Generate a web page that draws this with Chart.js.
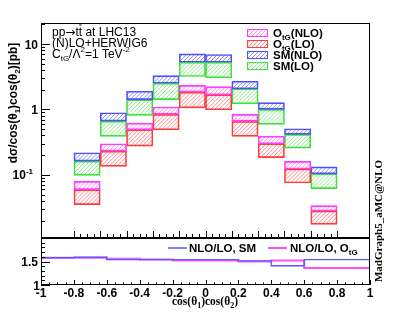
<!DOCTYPE html>
<html>
<head>
<meta charset="utf-8">
<script src="https://cdn.jsdelivr.net/npm/chart.js@4.4.0/dist/chart.umd.min.js"></script>
<style>
  body { margin: 0; background: #fff; }
  #wrap { position: relative; width: 411px; height: 318px; }
  canvas { position: absolute; left: 0; top: 0; }
</style>
</head>
<body>
<div id="wrap">
  <canvas id="chartMain" width="411" height="318"></canvas>
  <canvas id="chartRatio" width="411" height="318"></canvas>
</div>
<script>
// bins of cos(theta1)cos(theta2)
const binCenters = [-0.9, -0.7, -0.5, -0.3, -0.1, 0.1, 0.3, 0.5, 0.7, 0.9]
const binEdges = [-1, -0.8, -0.6, -0.4, -0.2, 0, 0.2, 0.4, 0.6, 0.8, 1]

// uncertainty bands [pb]
const smNloHi = [0.218, 0.89, 1.90, 3.30, 7.08, 6.92, 2.70, 1.27, 0.507, 0.132]
const smNloLo = [0.162, 0.663, 1.41, 2.52, 5.27, 5.27, 2.07, 1.00, 0.415, 0.104]
const smLoHi = [0.162, 0.663, 1.41, 2.52, 5.27, 5.27, 2.07, 1.00, 0.415, 0.104]
const smLoLo = [0.098, 0.387, 0.81, 1.41, 3.19, 3.05, 1.22, 0.59, 0.256, 0.0615]
const otgNloHi = [0.0796, 0.299, 0.618, 1.09, 2.33, 2.24, 0.84, 0.391, 0.161, 0.0339]
const otgNloLo = [0.0594, 0.231, 0.49, 0.84, 1.84, 1.68, 0.656, 0.299, 0.123, 0.028]
const otgLoHi = [0.0594, 0.231, 0.49, 0.84, 1.84, 1.68, 0.656, 0.299, 0.123, 0.028]
const otgLoLo = [0.035, 0.135, 0.275, 0.49, 1.06, 0.99, 0.387, 0.183, 0.075, 0.0175]

// NLO/LO ratios
const ratioSM = [1.52, 1.58, 1.59, 1.54, 1.54, 1.54, 1.54, 1.515, 1.41, 1.54]
const ratioOtG = [1.56, 1.58, 1.58, 1.56, 1.54, 1.52, 1.52, 1.50, 1.52, 1.36]

// ticks
const xTickValues = [-1, -0.8, -0.6, -0.4, -0.2, 0, 0.2, 0.4, 0.6, 0.8, 1]
const xTickLabels = ['-1', '-0.8', '-0.6', '-0.4', '-0.2', '0', '0.2', '0.4', '0.6', '0.8', '1']
const yTickValues = [0.1, 1, 10]
const yTickLabels = ['10^{-1}', '1', '10']
const rTickValues = [1, 1.5]
const rTickLabels = ['1', '1.5']

const SANS = '"Liberation Sans", Arial, Helvetica, sans-serif'
const SERIF = '"Liberation Serif", "Times New Roman", serif'

// "///" hatching clipped to a rectangle
function hatchRect(ctx, x, y, w, h, color) {
    ctx.save()
    ctx.beginPath()
    ctx.rect(x, y, w, h)
    ctx.clip()
    ctx.strokeStyle = color
    ctx.lineWidth = 0.8
    ctx.beginPath()
    for (let k = -h - 4; k < w + 4; k += 4) {
        ctx.moveTo(x + k, y + h)
        ctx.lineTo(x + k + h, y)
    }
    ctx.stroke()
    ctx.restore()
}

// text with _{sub}, ^{sup}, ~{overline} and !{symbol}
function parseRich(s) {
    return s.split(/(_\{[^}]*\}|\^\{[^}]*\}|~\{[^}]*\}|!\{[^}]*\})/).filter(p => p).map(p => {
        if (p.startsWith('_{')) return { t: p.slice(2, -1), m: 'sub' }
        if (p.startsWith('^{')) return { t: p.slice(2, -1), m: 'sup' }
        if (p.startsWith('~{')) return { t: p.slice(2, -1), m: 'bar' }
        if (p.startsWith('!{')) return { t: p.slice(2, -1), m: 'sym' }
        return { t: p, m: 'n' }
    })
}
function drawRich(ctx, s, x, y, size, o = {}) {
    const weight = o.weight || 'normal', family = o.family || SANS
    const parts = parseRich(s)
    const fontFor = m => {
        if (m === 'sym') return `${weight} ${size}px "DejaVu Sans", sans-serif`
        return `${weight} ${(m === 'sub' || m === 'sup') ? Math.round(size * 0.68) : size}px ${family}`
    }
    let w = 0
    parts.forEach(p => { ctx.font = fontFor(p.m); p.w = ctx.measureText(p.t).width; w += p.w })
    let cx = o.align === 'right' ? x - w : o.align === 'center' ? x - w / 2 : x
    ctx.textAlign = 'left'
    ctx.textBaseline = 'alphabetic'
    ctx.fillStyle = o.color || '#000'
    parts.forEach(p => {
        ctx.font = fontFor(p.m)
        const dy = p.m === 'sub' ? size * 0.28 : p.m === 'sup' ? -size * 0.42 : 0
        ctx.fillText(p.t, cx, y + dy)
        if (p.m === 'bar') ctx.fillRect(cx + 0.5, y - size * 0.92, p.w - 1, 1)
        cx += p.w
    })
}

const colSmNlo = { line: 'rgb(80,80,255)', fill: 'rgb(110,110,255)' }
const colSmLo = { line: 'rgb(60,225,60)', fill: 'rgb(110,230,110)' }
const colOtgNlo = { line: 'rgb(255,60,255)', fill: 'rgb(255,110,255)' }
const colOtgLo = { line: 'rgb(255,60,60)', fill: 'rgb(255,110,110)' }

function band(label, lo, hi, col) {
    return {
        label,
        data: binCenters.map((x, i) => ({ x, y: [lo[i], hi[i]] })),
        backgroundColor: 'rgba(0,0,0,0)',
        hatchColor: col.fill,
        borderColor: col.line,
        borderWidth: 1,
        borderSkipped: false,
        grouped: false,
        barPercentage: 1,
        categoryPercentage: 1
    }
}

const legendItems = [
    ['O_{tG}(NLO)', colOtgNlo],
    ['O_{tG}(LO)', colOtgLo],
    ['SM(NLO)', colSmNlo],
    ['SM(LO)', colSmLo]
]

// hatching under each bar, from the bar elements Chart.js positioned
const barHatch = {
    id: 'barHatch',
    beforeDatasetsDraw(chart) {
        const { ctx, chartArea: a } = chart
        ctx.save()
        ctx.beginPath()
        ctx.rect(a.left, a.top, a.right - a.left, a.bottom - a.top)
        ctx.clip()
        chart.data.datasets.forEach((ds, i) => {
            chart.getDatasetMeta(i).data.forEach(bar => {
                const { x, y, base, width } = bar.getProps(['x', 'y', 'base', 'width'])
                const top = Math.min(y, base), h = Math.abs(base - y)
                hatchRect(ctx, x - width / 2, top, width, h, ds.hatchColor)
            })
        })
        ctx.restore()
    }
}

const mainDecor = {
    id: 'mainDecor',
    afterDraw(chart) {
        const { ctx, chartArea: a, scales: { x, y } } = chart
        ctx.save()
        ctx.strokeStyle = '#000'
        ctx.lineWidth = 1
        ctx.strokeRect(a.left + 0.5, a.top + 0.5, a.right - a.left - 1, a.bottom - a.top)

        // y ticks (log)
        ctx.beginPath()
        for (let d = 0.01; d < 100; d *= 10) {
            for (let m = 1; m < 10; m++) {
                const v = d * m
                if (v < y.min || v > y.max) continue
                const py = Math.round(y.getPixelForValue(v)) + 0.5
                const len = m === 1 ? 9 : 4
                ctx.moveTo(a.left, py); ctx.lineTo(a.left + len, py)
            }
        }
        // x ticks
        for (let i = 0; i <= 40; i++) {
            const v = -1 + i * 0.05
            const px = Math.round(x.getPixelForValue(v)) + 0.5
            const len = i % 4 === 0 ? 6 : 3
            ctx.moveTo(px, a.bottom); ctx.lineTo(px, a.bottom - len)
        }
        ctx.stroke()

        yTickValues.forEach((v, i) => {
            const py = y.getPixelForValue(v)
            const rx = v < 1 ? 33 : 38
            drawRich(ctx, yTickLabels[i], rx, py + 4.5, 12, { weight: 'bold', align: 'right' })
        })

        // y title
        ctx.save()
        ctx.translate(17, 103)
        ctx.rotate(-Math.PI / 2)
        drawRich(ctx, 'dσ/cos(θ_{1})cos(θ_{2})[pb]', 0, 0, 12, { weight: 'bold', align: 'center' })
        ctx.restore()

        // right side label
        ctx.save()
        ctx.translate(382, 221)
        ctx.rotate(-Math.PI / 2)
        drawRich(ctx, 'MadGraph5_aMC@NLO', 0, 0, 11, { weight: 'bold', family: SERIF, align: 'center' })
        ctx.restore()

        // annotations
        drawRich(ctx, 'pp!{→}t~{t} at LHC13', 52, 35.5, 12)
        drawRich(ctx, '(N)LO+HERWIG6', 52, 46.5, 12)
        drawRich(ctx, 'C_{tG}/Λ^{2}=1 TeV^{-2}', 52, 57.5, 12)

        // legend
        legendItems.forEach(([txt, col], i) => {
            const top = Math.round(28.5 + i * 11.3)
            hatchRect(ctx, 247, top, 21, 7, col.fill)
            ctx.strokeStyle = col.line
            ctx.lineWidth = 1
            ctx.strokeRect(247.5, top + 0.5, 20, 7)
            drawRich(ctx, txt, 273, top + 8, 11.5, { weight: 'bold' })
        })
        ctx.restore()
    }
}

new Chart(document.getElementById('chartMain'), {
    type: 'bar',
    data: {
        datasets: [
            band('O_tG(NLO)', otgNloLo, otgNloHi, colOtgNlo),
            band('O_tG(LO)', otgLoLo, otgLoHi, colOtgLo),
            band('SM(NLO)', smNloLo, smNloHi, colSmNlo),
            band('SM(LO)', smLoLo, smLoHi, colSmLo)
        ]
    },
    options: {
        responsive: false,
        animation: false,
        layout: { padding: { left: 41, top: 23, right: 41, bottom: 81 } },
        scales: {
            x: { type: 'linear', min: -1, max: 1, display: false },
            y: { type: 'logarithmic', min: 0.0112, max: 21, display: false }
        },
        plugins: { legend: { display: false }, tooltip: { enabled: false } }
    },
    plugins: [barHatch, mainDecor]
})

const stepPoints = vals => binEdges.map((e, i) => ({ x: e, y: vals[Math.min(i, vals.length - 1)] }))
const smRatioColor = 'rgb(90,90,255)'
const otgRatioColor = 'rgb(255,80,255)'

const ratioDecor = {
    id: 'ratioDecor',
    afterDraw(chart) {
        const { ctx, chartArea: a, scales: { x, y } } = chart
        ctx.save()
        ctx.strokeStyle = '#000'
        ctx.lineWidth = 1
        ctx.strokeRect(a.left + 0.5, a.top + 0.5, a.right - a.left - 1, a.bottom - a.top - 1)
        ctx.beginPath()
        for (let i = 0; i <= 10; i++) {
            const v = 1 + i * 0.1
            const py = Math.round(y.getPixelForValue(v)) + 0.5
            const len = i % 5 === 0 ? 9 : 4
            ctx.moveTo(a.left, py); ctx.lineTo(a.left + len, py)
        }
        for (let i = 0; i <= 40; i++) {
            const v = -1 + i * 0.05
            const px = Math.round(x.getPixelForValue(v)) + 0.5
            const len = i % 4 === 0 ? 5 : 2.5
            ctx.moveTo(px, a.bottom); ctx.lineTo(px, a.bottom - len)
        }
        ctx.stroke()

        rTickValues.forEach((v, i) => {
            drawRich(ctx, rTickLabels[i], v === 1 ? 40 : 38, y.getPixelForValue(v) + 4.5, 12, { weight: 'bold', align: 'right' })
        })
        xTickValues.forEach((v, i) => {
            drawRich(ctx, xTickLabels[i], x.getPixelForValue(v), 296.5, 12, { weight: 'bold', align: 'center' })
        })
        drawRich(ctx, 'cos(θ_{1})cos(θ_{2})', 205, 305, 11.5, { weight: 'bold', family: SERIF, align: 'center' })

        // legend
        ctx.lineWidth = 1.5
        ctx.strokeStyle = smRatioColor
        ctx.beginPath(); ctx.moveTo(168, 248); ctx.lineTo(187, 248); ctx.stroke()
        drawRich(ctx, 'NLO/LO, SM', 189, 252, 11.5, { weight: 'bold' })
        ctx.lineWidth = 2
        ctx.strokeStyle = otgRatioColor
        ctx.beginPath(); ctx.moveTo(268, 248); ctx.lineTo(287, 248); ctx.stroke()
        drawRich(ctx, 'NLO/LO, O_{tG}', 290, 252, 11.5, { weight: 'bold' })
        ctx.restore()
    }
}

new Chart(document.getElementById('chartRatio'), {
    type: 'line',
    data: {
        datasets: [
            { label: 'NLO/LO, SM', data: stepPoints(ratioSM), stepped: 'after', borderColor: smRatioColor, borderWidth: 1.3, pointRadius: 0, fill: false },
            { label: 'NLO/LO, O_tG', data: stepPoints(ratioOtG), stepped: 'after', borderColor: otgRatioColor, borderWidth: 2, pointRadius: 0, fill: false }
        ]
    },
    options: {
        responsive: false,
        animation: false,
        layout: { padding: { left: 41, top: 238, right: 41, bottom: 33 } },
        scales: {
            x: { type: 'linear', min: -1, max: 1, display: false },
            y: { type: 'linear', min: 1, max: 2, display: false }
        },
        plugins: { legend: { display: false }, tooltip: { enabled: false } }
    },
    plugins: [ratioDecor]
})
</script>
</body>
</html>
